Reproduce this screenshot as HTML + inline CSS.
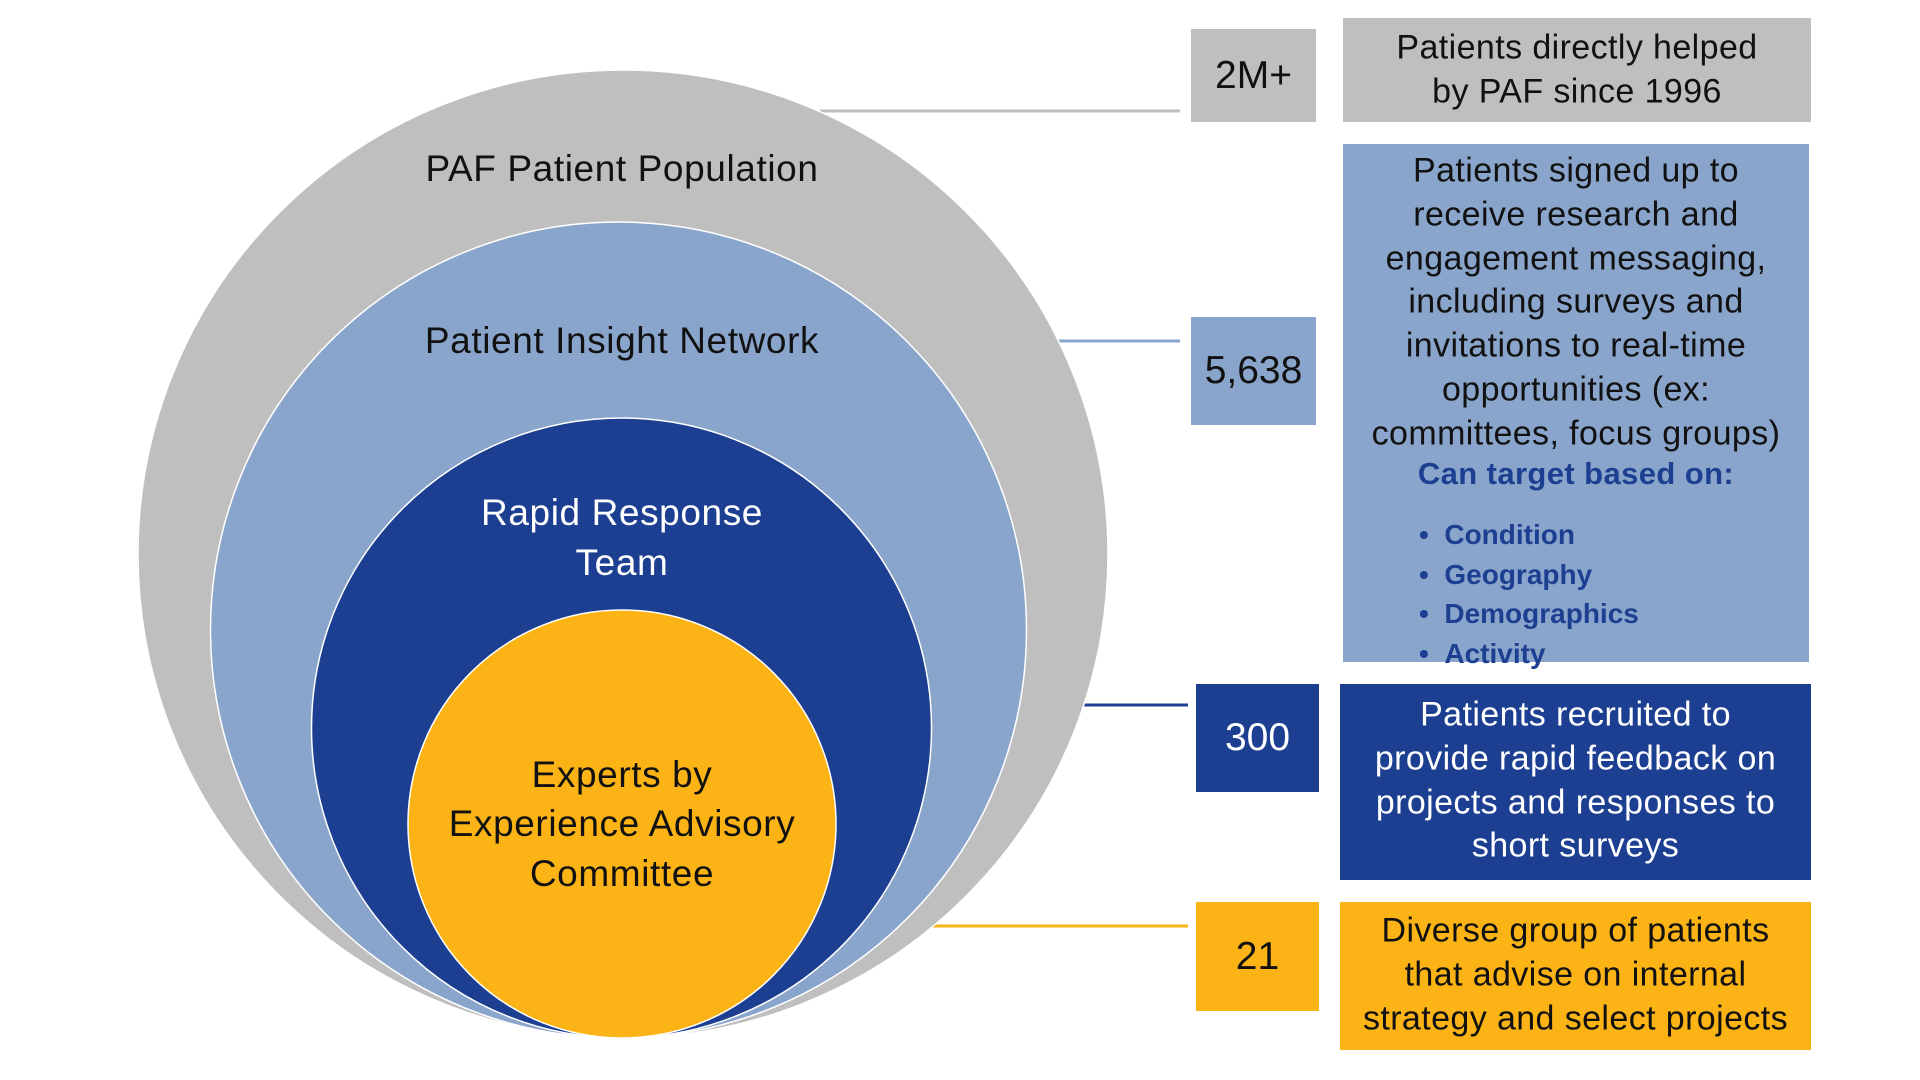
<!DOCTYPE html>
<html><head><meta charset="utf-8"><style>
html,body{margin:0;padding:0;background:#fff;}
body{width:1920px;height:1080px;position:relative;overflow:hidden;font-family:"Liberation Sans",sans-serif;}
.b{position:absolute;display:flex;align-items:center;justify-content:center;text-align:center;color:#111;}
.t{position:absolute;left:0;width:100%;text-align:center;transform:translateY(-50%);white-space:nowrap;letter-spacing:0.4px;}
.num{font-size:39px;}
</style></head><body>
<svg width="1920" height="1080" style="position:absolute;left:0;top:0">
<line x1="820" y1="111" x2="1180" y2="111" stroke="#bfbfbf" stroke-width="3"/>
<line x1="906" y1="341" x2="1180" y2="341" stroke="#8aa5cc" stroke-width="3"/>
<line x1="930" y1="705" x2="1188" y2="705" stroke="#1d3f91" stroke-width="3"/>
<line x1="808" y1="926" x2="1188" y2="926" stroke="#fbb316" stroke-width="3"/>
<ellipse cx="623" cy="554" rx="485" ry="484" fill="#bfbfbf" stroke="#fff" stroke-width="1.5"/>
<circle cx="618.5" cy="630" r="408" fill="#8aa5cc" stroke="#fff" stroke-width="1.5"/>
<circle cx="621.5" cy="728" r="310" fill="#1d3f91" stroke="#fff" stroke-width="1.5"/>
<circle cx="622" cy="824" r="214" fill="#fbb316" stroke="#fff" stroke-width="1.5"/>
<g font-family="Liberation Sans, sans-serif" font-size="37" text-anchor="middle" letter-spacing="0.6">
<text x="622" y="181" fill="#111">PAF Patient Population</text>
<text x="622" y="353" fill="#111">Patient Insight Network</text>
<text x="622" y="525" fill="#fff">Rapid Response</text>
<text x="622" y="575" fill="#fff">Team</text>
<text x="622" y="787" fill="#111">Experts by</text>
<text x="622" y="836" fill="#111">Experience Advisory</text>
<text x="622" y="886" fill="#111">Committee</text>
</g>
</svg>

<div class="b num" style="left:1191px;top:29px;width:125px;height:93px;background:#bfbfbf;">2M+</div>
<div style="position:absolute;left:1343px;top:18px;width:468px;height:104px;background:#bfbfbf;font-size:34px;color:#111;">
<div class="t" style="top:30px">Patients directly helped</div>
<div class="t" style="top:74px">by PAF since 1996</div>
</div>

<div class="b num" style="left:1191px;top:317px;width:125px;height:108px;background:#8aa5cc;">5,638</div>
<div style="position:absolute;left:1343px;top:144px;width:466px;height:518px;background:#8aa5cc;font-size:34px;color:#111;">
<div class="t" style="top:27px">Patients signed up to</div>
<div class="t" style="top:71px">receive research and</div>
<div class="t" style="top:115px">engagement messaging,</div>
<div class="t" style="top:158px">including surveys and</div>
<div class="t" style="top:202px">invitations to real-time</div>
<div class="t" style="top:246px">opportunities (ex:</div>
<div class="t" style="top:290px">committees, focus groups)</div>
<div class="t" style="top:330px;font-weight:bold;color:#1d3f91;font-size:31px;">Can target based on:</div>
<div style="position:absolute;left:76px;top:371px;font-weight:bold;color:#1d3f91;font-size:28px;line-height:39.5px;">
<div>•&nbsp;&nbsp;Condition</div><div>•&nbsp;&nbsp;Geography</div><div>•&nbsp;&nbsp;Demographics</div><div>•&nbsp;&nbsp;Activity</div>
</div>
</div>

<div class="b num" style="left:1196px;top:684px;width:123px;height:108px;background:#1d3f91;color:#fff;">300</div>
<div style="position:absolute;left:1340px;top:684px;width:471px;height:196px;background:#1d3f91;font-size:34px;color:#fff;">
<div class="t" style="top:31px">Patients recruited to</div>
<div class="t" style="top:75px">provide rapid feedback on</div>
<div class="t" style="top:119px">projects and responses to</div>
<div class="t" style="top:162px">short surveys</div>
</div>

<div class="b num" style="left:1196px;top:902px;width:123px;height:109px;background:#fbb316;">21</div>
<div style="position:absolute;left:1340px;top:902px;width:471px;height:148px;background:#fbb316;font-size:34px;color:#111;">
<div class="t" style="top:29px">Diverse group of patients</div>
<div class="t" style="top:73px">that advise on internal</div>
<div class="t" style="top:117px">strategy and select projects</div>
</div>
</body></html>
